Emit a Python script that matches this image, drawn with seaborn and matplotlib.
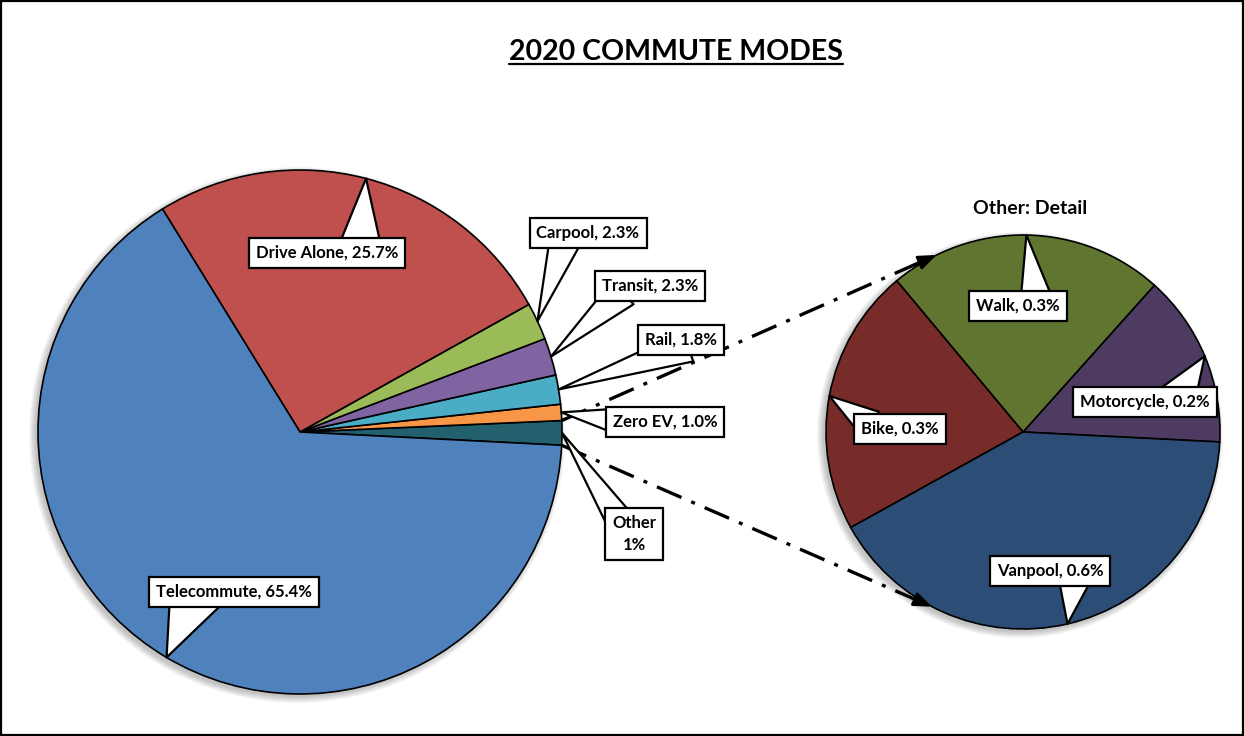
import numpy as np
import matplotlib
matplotlib.use("Agg")
import matplotlib.pyplot as plt
import seaborn as sns
from matplotlib.patches import Circle, Rectangle

# ---------------- data ----------------
main_labels = ["Other", "Zero EV", "Rail", "Transit", "Carpool", "Drive Alone", "Telecommute"]
main_values = [1.5, 1.0, 1.8, 2.3, 2.3, 25.7, 65.4]
main_texts = ["Other\n1%", "Zero EV, 1.0%", "Rail, 1.8%", "Transit, 2.3%",
              "Carpool, 2.3%", "Drive Alone, 25.7%", "Telecommute, 65.4%"]
main_colors = ["#23606E", "#F79646", "#4BACC6", "#8064A2", "#9BBB59", "#C0504D", "#4F81BD"]

detail_labels = ["Motorcycle", "Walk", "Bike", "Vanpool"]
detail_values = [0.20, 0.32, 0.31, 0.58]
detail_colors = ["#4D3B62", "#5F7530", "#772C2A", "#2C4D75"]

title_text = "2020 COMMUTE MODES"
detail_title = "Other: Detail"

# ---------------- layout (pixel coords, y from top) ----------------
W, H = 1244, 736
main_center = (300, 432)
main_radius = 262
detail_center = (1023, 432)
detail_radius = 197
start_angle = -2.9

# label box centre, pointer base (relpos within text bbox), pointer width
box_layout = {
    "Other": ((634, 534), (0.15, 0.9), 1.6),
    "Zero EV": ((665, 422), (0.0, 0.6), 1.4),
    "Rail": ((681, 340), (0.6, 0.1), 1.9),
    "Transit": ((650, 286), (0.22, 0.1), 1.9),
    "Carpool": ((588, 233), (0.28, 0.1), 1.9),
    "Drive Alone": ((327, 253), (0.73, 0.5), 2.8),
    "Telecommute": ((234, 592), (0.26, 0.5), 3.4),
    "Motorcycle": ((1145, 402), (0.73, 0.5), 2.5),
    "Walk": ((1018, 306), (0.73, 0.5), 2.1),
    "Bike": ((900, 429), (0.12, 0.8), 1.8),
    "Vanpool": ((1050, 571), (0.74, 0.5), 2.3),
}
connector_end_angles = (116.0, 242.5)

sns.set_theme(style="white")
plt.rcParams["font.family"] = ["Lato", "DejaVu Sans"]

fig = plt.figure(figsize=(W / 100, H / 100), dpi=100)
ax = fig.add_axes([0, 0, 1, 1])


def fy(y):
    return H - y


def draw_shadow(c, r):
    for k in range(7):
        ax.add_patch(Circle((c[0] - 3, fy(c[1]) - 3), r + k * 1.0, color="black",
                            alpha=0.035, lw=0, zorder=0))


draw_shadow(main_center, main_radius)
draw_shadow(detail_center, detail_radius)

wedges_main, _ = ax.pie(main_values, colors=main_colors, startangle=start_angle,
                        counterclock=True, center=(main_center[0], fy(main_center[1])),
                        radius=main_radius, frame=True,
                        wedgeprops=dict(edgecolor="black", linewidth=1.2))
wedges_det, _ = ax.pie(detail_values, colors=detail_colors, startangle=start_angle,
                       counterclock=True, center=(detail_center[0], fy(detail_center[1])),
                       radius=detail_radius, frame=True,
                       wedgeprops=dict(edgecolor="black", linewidth=1.2))


def callout(wedge, text, layout):
    pos, relpos, tail = layout
    th = np.deg2rad((wedge.theta1 + wedge.theta2) / 2)
    cx, cy = wedge.center
    r = wedge.r
    tip = (cx + r * np.cos(th), cy + r * np.sin(th))
    ax.annotate(text, xy=tip, xytext=(pos[0], fy(pos[1])), ha="center", va="center",
                fontsize=12, fontweight="bold", color="black", linespacing=1.45,
                bbox=dict(boxstyle="square,pad=0.42", fc="white", ec="black", lw=1.6),
                arrowprops=dict(arrowstyle=f"wedge,tail_width={tail}", fc="white",
                                ec="black", lw=1.6, patchA=None, shrinkA=0, shrinkB=0,
                                relpos=relpos),
                zorder=5)


for w, lab, txt in zip(wedges_main, main_labels, main_texts):
    callout(w, txt, box_layout[lab])

for w, lab, v in zip(wedges_det, detail_labels, detail_values):
    callout(w, f"{lab}, {v:.1f}%", box_layout[lab])

# connector lines from "Other" slice to detail pie
other_w = wedges_main[0]
mc = other_w.center
dc = (detail_center[0], fy(detail_center[1]))
starts = [other_w.theta2, other_w.theta1]
for a0, a1 in zip(starts, connector_end_angles):
    p0 = np.array([mc[0] + main_radius * np.cos(np.deg2rad(a0)),
                   mc[1] + main_radius * np.sin(np.deg2rad(a0))])
    p1 = np.array([dc[0] + detail_radius * np.cos(np.deg2rad(a1)),
                   dc[1] + detail_radius * np.sin(np.deg2rad(a1))])
    u = (p1 - p0) / np.linalg.norm(p1 - p0)
    pm = p1 - u * 12
    ax.plot([p0[0], pm[0]], [p0[1], pm[1]], color="black", lw=2.4,
            linestyle=(0, (8, 3.2, 1.2, 3.2)), solid_capstyle="butt", zorder=4)
    ax.annotate("", xy=tuple(p1), xytext=tuple(p1 - u * 16),
                arrowprops=dict(arrowstyle="-|>,head_length=0.9,head_width=0.35",
                                color="black", lw=2, shrinkA=0, shrinkB=0), zorder=4)

# titles
t = ax.text(676, fy(52), title_text, ha="center", va="center", fontsize=20.5,
            fontweight="bold", color="black")
ax.text(1030, fy(209), detail_title, ha="center", va="center", fontsize=14,
        fontweight="bold", color="black")

ax.set_xlim(0, W)
ax.set_ylim(0, H)
ax.set_aspect("equal")
ax.axis("off")

# underline title
fig.canvas.draw()
bb = t.get_window_extent().transformed(ax.transData.inverted())
ax.plot([bb.x0, bb.x1], [bb.y0 + 1, bb.y0 + 1], color="black", lw=1.6)

ax.add_patch(Rectangle((1, 1), W - 2, H - 2, fill=False, ec="black", lw=1.6, zorder=10))

fig.savefig("out.png", dpi=100)
